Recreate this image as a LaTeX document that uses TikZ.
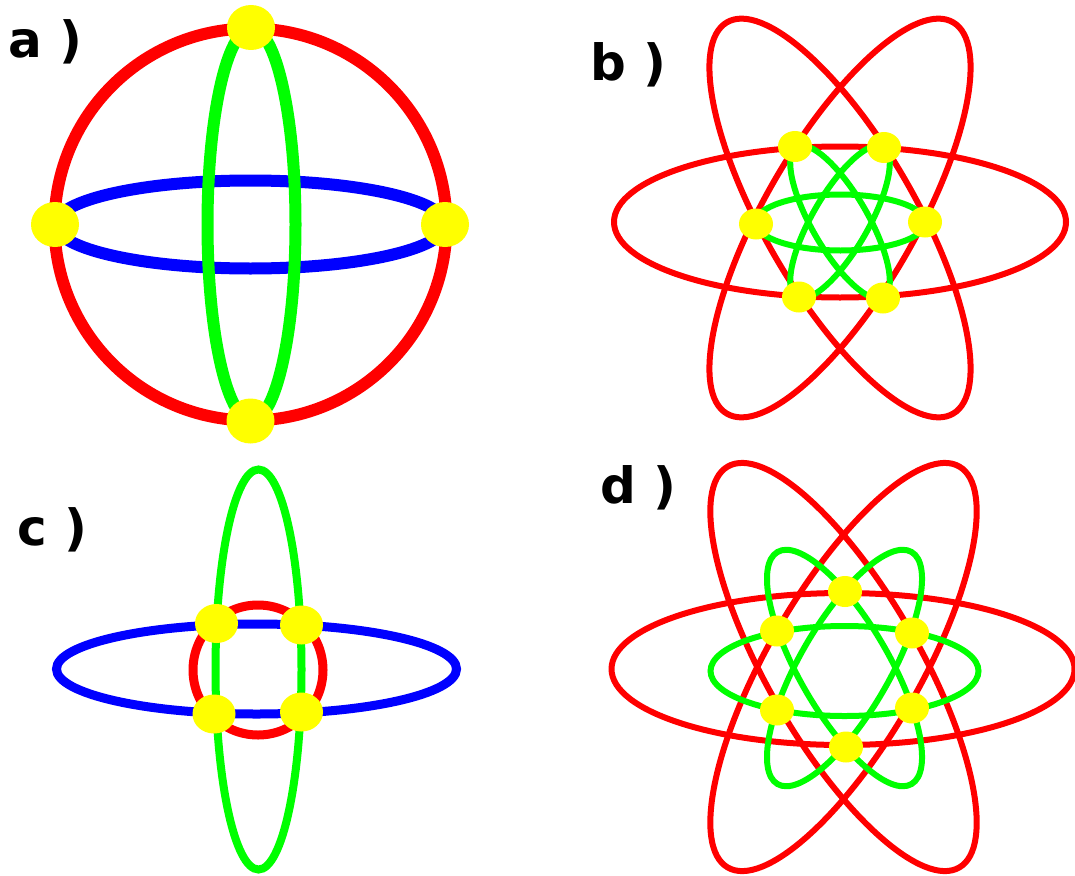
\documentclass[tikz,border=0pt]{standalone}
\usepackage{fontspec}
\setsansfont{DejaVu Sans}
\definecolor{cred}{RGB}{255,0,0}
\definecolor{cgreen}{RGB}{0,255,0}
\definecolor{cblue}{RGB}{0,0,255}
\definecolor{cyellow}{RGB}{255,255,0}
\begin{document}
\begin{tikzpicture}[x=1pt,y=-1pt,
  lbl/.style={anchor=base west, inner sep=0pt, font=\sffamily\bfseries\fontsize{50}{60}\selectfont},
  bigdot/.style={fill=cyellow},
  ringA/.style={line width=12pt},
  ringB/.style={line width=6pt},
  ringC/.style={line width=9pt},
  ringD/.style={line width=6pt}]
\fill[white] (0,0) rectangle (1075,875);
\useasboundingbox (0,0) rectangle (1075,875);

% ---------- a ----------
\draw[cred, ringA] (250.5,224.5) circle [radius=196];
\draw[cblue, ringA] (250.5,224.5) ellipse [x radius=195, y radius=44];
\draw[cgreen, ringA] (251.5,224.5) ellipse [x radius=44, y radius=196];
\foreach \p in {(251,27.5),(55,224.5),(445,224.5),(250.5,421)}
  \fill[bigdot] \p ellipse [x radius=24, y radius=22.5];
\node[lbl] (la) at (8.5,58) {a )};

% ---------- b ----------
\draw[cred, ringB] (840,222) ellipse [x radius=226, y radius=75.5];
\draw[cred, ringB, rotate around={60:(840,218)}] (840,218) ellipse [x radius=226, y radius=75.5];
\draw[cred, ringB, rotate around={-60:(840,218)}] (840,218) ellipse [x radius=226, y radius=75.5];
\draw[cgreen, ringB] (840.5,222.5) ellipse [x radius=85, y radius=28];
\draw[cgreen, ringB, rotate around={60:(840,222)}] (840,222) ellipse [x radius=87, y radius=28];
\draw[cgreen, ringB, rotate around={-60:(840,222)}] (840,222) ellipse [x radius=87, y radius=28];
\foreach \p in {(795,146.5),(884,147.5),(756,224),(925,222),(799,297),(883,298)}
  \fill[bigdot] \p ellipse [x radius=17, y radius=15.5];
\node[lbl] (lb) at (590,80) {b )};

% ---------- c ----------
\draw[cblue, line width=9pt] (256.5,669) ellipse [x radius=200, y radius=45];
\draw[cgreen, line width=8pt] (258.5,669.5) ellipse [x radius=43, y radius=200];
\draw[cred, ringC] (258,670) circle [radius=65];
\foreach \p in {(216.5,623.5),(301.5,625),(214,714),(301.5,712)}
  \fill[bigdot] \p ellipse [x radius=21.5, y radius=19.5];
\node[lbl] (lc) at (17,545) {c )};

% ---------- d ----------
\draw[cred, ringD] (843,669) ellipse [x radius=231.5, y radius=76];
\draw[cred, ringD, rotate around={60:(843.5,667)}] (843.5,667) ellipse [x radius=231.5, y radius=76];
\draw[cred, ringD, rotate around={-60:(843.5,667)}] (843.5,667) ellipse [x radius=231.5, y radius=76];
\draw[cgreen, ringD] (844.5,671) ellipse [x radius=134, y radius=45];
\draw[cgreen, ringD, rotate around={60:(844.5,668)}] (844.5,668) ellipse [x radius=134, y radius=45];
\draw[cgreen, ringD, rotate around={-60:(844.5,668)}] (844.5,668) ellipse [x radius=134, y radius=45];
\foreach \p in {(845,591.5),(777,631),(912,633),(777,710),(912,708),(846,747)}
  \fill[bigdot] \p ellipse [x radius=17, y radius=15.5];
\node[lbl] (ld) at (600,503) {d )};
\end{tikzpicture}
\end{document}
